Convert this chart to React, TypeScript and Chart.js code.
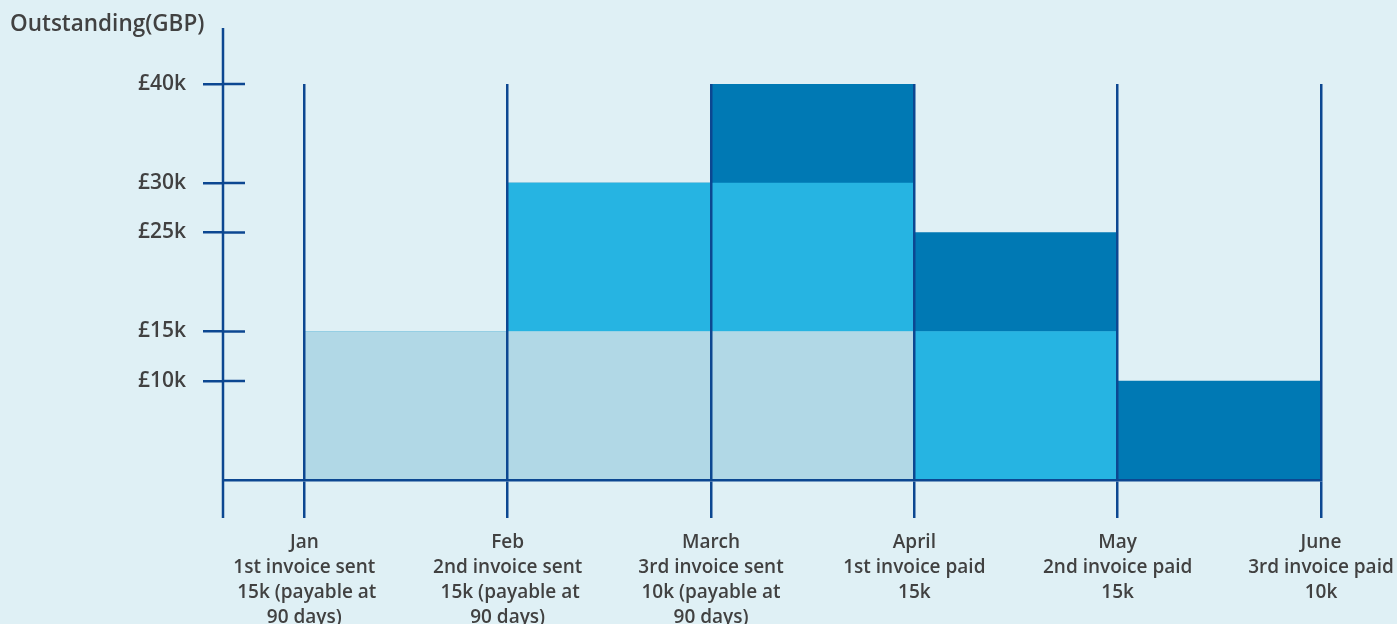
import React, { useEffect, useRef } from "react";
import { Chart, registerables } from "chart.js";

Chart.register(...registerables);

// ---- data ----
const monthLabels: string[][] = [
  ["Jan", "1st invoice sent", " 15k (payable at", "90 days)"],
  ["Feb", "2nd invoice sent", " 15k (payable at", "90 days)"],
  ["March", "3rd invoice sent", "10k (payable at", "90 days)"],
  ["April", "1st invoice paid", "15k"],
  ["May", "2nd invoice paid", "15k"],
  ["June", "3rd invoice paid", "10k"],
];
// outstanding amount per month interval (Jan-Feb, Feb-Mar, Mar-Apr, Apr-May, May-Jun)
const invoice1: number[] = [15000, 15000, 15000, 0, 0];
const invoice2: number[] = [0, 15000, 15000, 15000, 0];
const invoice3: number[] = [0, 0, 10000, 10000, 10000];
const yTickValues: number[] = [10000, 15000, 25000, 30000, 40000];
const yTickLabels: string[] = ["£10k", "£15k", "£25k", "£30k", "£40k"];
const yAxisTitle = "Outstanding(GBP)";

const LINE = "#0c4791";
const TEXT = "#414141";
const BG = "#dff0f5";
const FONT = "'Open Sans'";

const toPoints = (arr: number[]) => arr.map((v, i) => ({ x: i + 0.5, y: v }));

const axisPlugin = {
  id: "axisExtras",
  afterDatasetsDraw(chart: any) {
    const { ctx, chartArea } = chart;
    const y = chart.scales.y;
    ctx.save();
    ctx.strokeStyle = LINE;
    ctx.lineWidth = 2.5;
    ctx.beginPath();
    ctx.moveTo(chartArea.left, chartArea.top - 56);
    ctx.lineTo(chartArea.left, chartArea.bottom + 38);
    ctx.stroke();
    yTickValues.forEach((v) => {
      const py = y.getPixelForValue(v);
      ctx.beginPath();
      ctx.moveTo(chartArea.left, py);
      ctx.lineTo(chartArea.left + 22, py);
      ctx.stroke();
    });
    ctx.restore();
  },
};

export default function App() {
  const ref = useRef<HTMLCanvasElement | null>(null);
  useEffect(() => {
    document.body.style.margin = "0";
    const chart = new Chart(ref.current!, {
      type: "bar",
      data: {
        datasets: [
          { label: "1st invoice", data: toPoints(invoice1), backgroundColor: "#b1d8e6" },
          { label: "2nd invoice", data: toPoints(invoice2), backgroundColor: "#26b4e2" },
          { label: "3rd invoice", data: toPoints(invoice3), backgroundColor: "#0079b4" },
        ] as any,
      },
      options: {
        animation: false,
        responsive: false,
        devicePixelRatio: 1,
        layout: { padding: { top: 8, left: 10, right: 76, bottom: 0 } },
        datasets: { bar: { barPercentage: 1, categoryPercentage: 1, borderWidth: 0 } },
        plugins: {
          legend: { display: false },
          tooltip: { enabled: false },
          title: {
            display: true,
            text: yAxisTitle,
            align: "start",
            color: TEXT,
            font: { family: FONT, size: 22.5, weight: 600, lineHeight: 1.2 },
            padding: { top: 3, bottom: 46 },
          },
        },
        scales: {
          x: {
            type: "linear",
            stacked: true,
            offset: false,
            min: -0.4,
            max: 5,
            afterBuildTicks: (scale: any) => {
              scale.ticks = monthLabels.map((_, i) => ({ value: i }));
            },
            afterFit: (scale: any) => {
              scale.height = 144;
              scale.paddingLeft = 0;
              scale.paddingRight = 0;
            },
            ticks: {
              autoSkip: false,
              maxRotation: 0,
              padding: 12,
              color: TEXT,
              font: { family: FONT, size: 19, weight: 600, lineHeight: "25px" as any },
              callback: (_v: any, i: number) => monthLabels[i],
            },
            grid: { offset: false, z: 1, color: LINE, lineWidth: 2.5, tickLength: 38, drawOnChartArea: true },
            border: { display: true, z: 1, color: LINE, width: 2.5 },
          },
          y: {
            stacked: true,
            min: 0,
            max: 40000,
            afterBuildTicks: (scale: any) => {
              scale.ticks = yTickValues.map((v) => ({ value: v }));
            },
            afterFit: (scale: any) => {
              scale.width = 213;
              scale.paddingTop = 0;
              scale.paddingBottom = 0;
            },
            ticks: {
              padding: 17,
              color: TEXT,
              font: { family: FONT, size: 21, weight: 600 },
              callback: (v: any) => {
                const i = yTickValues.indexOf(Number(v));
                return i >= 0 ? yTickLabels[i] : "";
              },
            },
            grid: { z: 1, color: LINE, lineWidth: 2.5, tickLength: 20, drawOnChartArea: false },
            border: { display: false },
          },
        },
      },
      plugins: [axisPlugin],
    } as any);
    return () => chart.destroy();
  }, []);
  return (
    <div style={{ position: "absolute", left: 0, top: 0, width: 1397, height: 624, background: BG }}>
      <canvas ref={ref} width={1397} height={624} style={{ display: "block" }} />
    </div>
  );
}
